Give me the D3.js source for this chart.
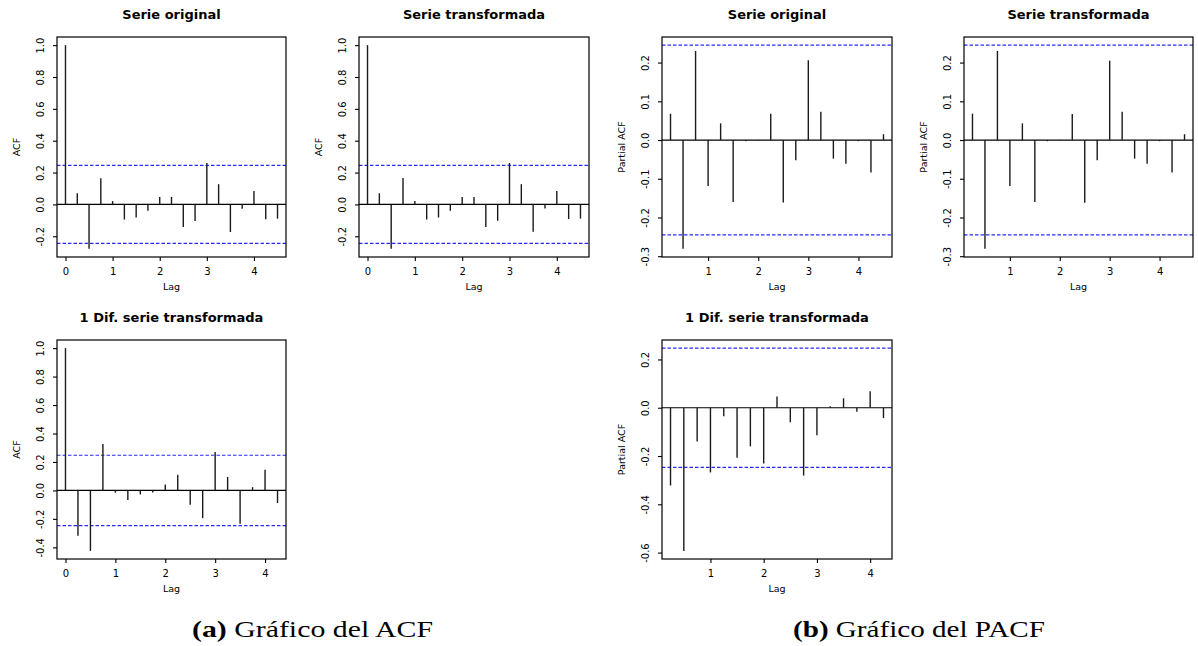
<!DOCTYPE html>
<html>
<head>
<meta charset="utf-8">
<script src="https://cdn.jsdelivr.net/npm/d3@7"></script>
<style>
  body { margin: 0; background: #fff; }
  text { font-family: "DejaVu Sans", sans-serif; fill: #000; }
</style>
</head>
<body>
<div id="chart"></div>
<script>

////////////////////////////////////////////////////////////
// Data
////////////////////////////////////////////////////////////

const lags_acf = [0, 0.25, 0.5, 0.75, 1, 1.25, 1.5, 1.75, 2, 2.25, 2.5, 2.75, 3, 3.25, 3.5, 3.75, 4, 4.25, 4.5]
const lags_pacf = [0.25, 0.5, 0.75, 1, 1.25, 1.5, 1.75, 2, 2.25, 2.5, 2.75, 3, 3.25, 3.5, 3.75, 4, 4.25, 4.5]
const lags_acf_dif = [0, 0.25, 0.5, 0.75, 1, 1.25, 1.5, 1.75, 2, 2.25, 2.5, 2.75, 3, 3.25, 3.5, 3.75, 4, 4.25]
const lags_pacf_dif = [0.25, 0.5, 0.75, 1, 1.25, 1.5, 1.75, 2, 2.25, 2.5, 2.75, 3, 3.25, 3.5, 3.75, 4, 4.25]

const acf_original = [1.0, 0.070, -0.279, 0.165, 0.021, -0.095, -0.082, -0.040, 0.047, 0.047,
  -0.142, -0.104, 0.260, 0.127, -0.173, -0.027, 0.085, -0.093, -0.089]
const acf_transformada = [1.0, 0.070, -0.279, 0.166, 0.021, -0.095, -0.082, -0.040, 0.047, 0.047,
  -0.142, -0.103, 0.260, 0.127, -0.172, -0.026, 0.085, -0.092, -0.089]
const pacf_original = [0.068, -0.281, 0.230, -0.119, 0.043, -0.160, -0.003, -0.001, 0.068,
  -0.161, -0.052, 0.206, 0.073, -0.048, -0.061, -0.003, -0.084, 0.015]
const pacf_transformada = [0.068, -0.281, 0.230, -0.119, 0.043, -0.160, -0.003, -0.001, 0.067,
  -0.162, -0.052, 0.205, 0.073, -0.048, -0.061, -0.003, -0.084, 0.015]
const acf_dif = [1.0, -0.319, -0.425, 0.326, -0.016, -0.068, -0.028, -0.014, 0.042, 0.110,
  -0.101, -0.195, 0.270, 0.094, -0.235, 0.023, 0.146, -0.089]
const pacf_dif = [-0.322, -0.593, -0.140, -0.268, -0.035, -0.207, -0.160, -0.231, 0.047,
  -0.060, -0.281, -0.114, 0.006, 0.039, -0.017, 0.068, -0.043]

const ci_n64 = 0.245
const ci_n63 = 0.247

const titles = ['Serie original', 'Serie transformada', '1 Dif. serie transformada']
const ticks_acf_y = [-0.2, 0, 0.2, 0.4, 0.6, 0.8, 1.0]
const ticks_acf_dif_y = [-0.4, -0.2, 0, 0.2, 0.4, 0.6, 0.8, 1.0]
const ticks_pacf_y = [-0.3, -0.2, -0.1, 0, 0.1, 0.2]
const ticks_pacf_dif_y = [-0.6, -0.4, -0.2, 0, 0.2]
const ticks_acf_x = [0, 1, 2, 3, 4]
const ticks_pacf_x = [1, 2, 3, 4]

const captions = [
  { tag: '(a)', text: ' Gráfico del ACF' },
  { tag: '(b)', text: ' Gráfico del PACF' }
]

////////////////////////////////////////////////////////////
// Layout
////////////////////////////////////////////////////////////

const W = 1198
const H = 646

const panels = [
  { box: [57, 286, 37, 257], title: titles[0], ylab: 'ACF', lags: lags_acf, values: acf_original,
    ci: ci_n64, xt: ticks_acf_x, yt: ticks_acf_y },
  { box: [359, 589, 37, 257], title: titles[1], ylab: 'ACF', lags: lags_acf, values: acf_transformada,
    ci: ci_n64, xt: ticks_acf_x, yt: ticks_acf_y },
  { box: [662, 892, 37, 257], title: titles[0], ylab: 'Partial ACF', lags: lags_pacf, values: pacf_original,
    ci: ci_n64, xt: ticks_pacf_x, yt: ticks_pacf_y },
  { box: [964, 1193, 37, 257], title: titles[1], ylab: 'Partial ACF', lags: lags_pacf, values: pacf_transformada,
    ci: ci_n64, xt: ticks_pacf_x, yt: ticks_pacf_y },
  { box: [57, 286, 340, 559], title: titles[2], ylab: 'ACF', lags: lags_acf_dif, values: acf_dif,
    ci: ci_n63, xt: ticks_acf_x, yt: ticks_acf_dif_y },
  { box: [662, 892, 340, 559], title: titles[2], ylab: 'Partial ACF', lags: lags_pacf_dif, values: pacf_dif,
    ci: ci_n63, xt: ticks_pacf_x, yt: ticks_pacf_dif_y }
]

const svg = d3.select('#chart')
  .append('svg')
  .attr('width', W)
  .attr('height', H)

// R style 4% axis padding
function pad(ext) {
  let d = (ext[1] - ext[0]) * 0.04
  return [ext[0] - d, ext[1] + d]
}

function fmt(v) {
  return v.toFixed(1)
}

function draw_panel(p) {

  let [x0, x1, y0, y1] = p.box
  let x_scale = d3.scaleLinear().domain(pad(d3.extent(p.lags))).range([x0, x1])
  let y_scale = d3.scaleLinear()
    .domain(pad(d3.extent([...p.values, p.ci, -p.ci])))
    .range([y1, y0])

  let g = svg.append('g')

  // Title
  g.append('text')
    .attr('x', (x0 + x1) / 2)
    .attr('y', y0 - 18)
    .attr('text-anchor', 'middle')
    .style('font-size', '13px')
    .style('font-weight', 'bold')
    .text(p.title)

  // Confidence band
  for (let c of [p.ci, -p.ci]) {
    g.append('line')
      .attr('x1', x0).attr('x2', x1)
      .attr('y1', y_scale(c)).attr('y2', y_scale(c))
      .attr('stroke', '#2a2aff')
      .attr('stroke-width', 1.2)
      .attr('stroke-dasharray', '3.5,2')
  }

  // Zero line
  g.append('line')
    .attr('x1', x0).attr('x2', x1)
    .attr('y1', y_scale(0)).attr('y2', y_scale(0))
    .attr('stroke', '#000')
    .attr('stroke-width', 1.2)

  // Stems
  g.selectAll('.stem')
    .data(p.values)
    .enter()
    .append('line')
      .attr('class', 'stem')
      .attr('x1', (d, i) => x_scale(p.lags[i]))
      .attr('x2', (d, i) => x_scale(p.lags[i]))
      .attr('y1', y_scale(0))
      .attr('y2', d => y_scale(d))
      .attr('stroke', '#1a1a1a')
      .attr('stroke-width', 1.4)

  // Box
  g.append('rect')
    .attr('x', x0).attr('y', y0)
    .attr('width', x1 - x0).attr('height', y1 - y0)
    .attr('fill', 'none')
    .attr('stroke', '#000')
    .attr('stroke-width', 1.2)

  // X axis
  let x_axis = g.append('g')
    .attr('transform', `translate(0,${y1})`)
    .call(d3.axisBottom(x_scale).tickValues(p.xt).tickFormat(d3.format('d')).tickSize(4).tickPadding(3))
  x_axis.select('.domain').remove()
  x_axis.selectAll('line').attr('stroke', '#000').attr('stroke-width', 1.1)
  x_axis.selectAll('text')
    .attr('y', 17.5).attr('dy', 0)
    .style('font-family', '"DejaVu Sans", sans-serif')
    .style('font-size', '10px')

  // Y axis
  let y_axis = g.append('g')
    .attr('transform', `translate(${x0},0)`)
    .call(d3.axisLeft(y_scale).tickValues(p.yt).tickFormat(fmt).tickSize(4))
  y_axis.select('.domain').remove()
  y_axis.selectAll('line').attr('stroke', '#000').attr('stroke-width', 1.1)
  y_axis.selectAll('text')
    .attr('x', 0).attr('dy', 0)
    .attr('transform', 'translate(-13,0) rotate(-90)')
    .attr('text-anchor', 'middle')
    .style('font-family', '"DejaVu Sans", sans-serif')
    .style('font-size', '10px')

  // Axis labels
  g.append('text')
    .attr('x', (x0 + x1) / 2)
    .attr('y', y1 + 33)
    .attr('text-anchor', 'middle')
    .style('font-size', '9.5px')
    .text('Lag')

  g.append('text')
    .attr('transform', `translate(${x0 - 37.5},${(y0 + y1) / 2}) rotate(-90)`)
    .attr('text-anchor', 'middle')
    .style('font-size', '9.5px')
    .text(p.ylab)
}

for (let p of panels) draw_panel(p)

// Sub-figure captions
const caption_pos = [[192, 241], [793, 252]]
captions.forEach((c, i) => {
  let t = svg.append('text')
    .attr('x', caption_pos[i][0])
    .attr('y', 637)
    .attr('textLength', caption_pos[i][1])
    .attr('lengthAdjust', 'spacingAndGlyphs')
    .style('font-family', '"Liberation Serif", "DejaVu Serif", serif')
    .style('font-size', '23px')
  t.append('tspan').style('font-weight', 'bold').text(c.tag)
  t.append('tspan').text(c.text)
})

</script>
</body>
</html>
